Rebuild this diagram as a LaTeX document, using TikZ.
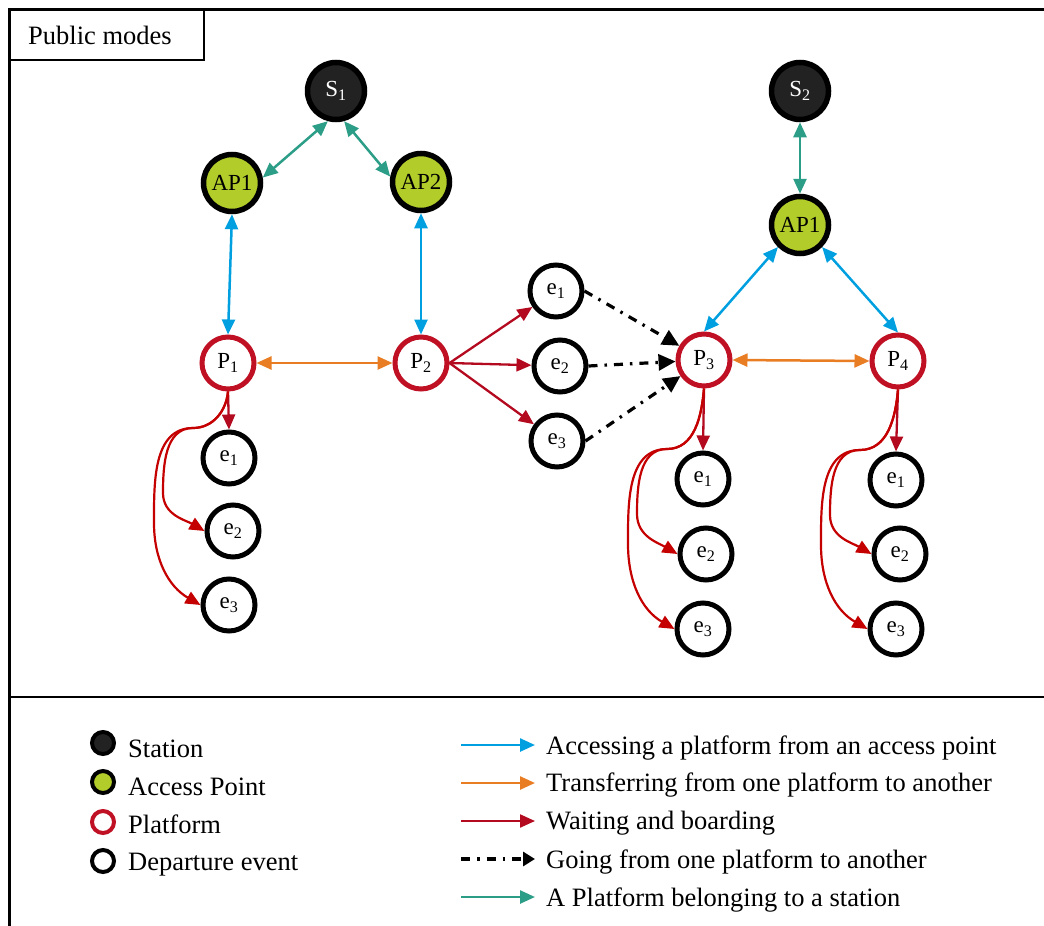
\documentclass[tikz,border=0pt]{standalone}
\usepackage{fontspec}
\setmainfont{Liberation Serif}
\usetikzlibrary{arrows.meta,calc}

\definecolor{stationfill}{RGB}{34,34,34}
\definecolor{apgreen}{RGB}{178,204,42}
\definecolor{platred}{RGB}{192,16,36}
\definecolor{waitred}{RGB}{180,10,32}
\definecolor{curvered}{RGB}{196,0,0}
\definecolor{accblue}{RGB}{0,160,224}
\definecolor{transorange}{RGB}{232,125,36}
\definecolor{stationteal}{RGB}{44,157,135}

\newcommand\nodefont{\fontsize{23}{26}\selectfont}
\newcommand\legendfont{\fontsize{26.5}{30}\selectfont}

% two curved waiting arrows from a platform to its second and third departure events
\newcommand\waitcurves[4]{%
  \draw[waitcurve] (#1.south) to[out=-95,in=0] ($(#2)+(-36,30)$)
    to[out=180,in=90] ($(#2)+(-66,-35)$) to[out=-90,in=150] (#3.west);
  \draw[waitcurve] (#1.south) to[out=-95,in=0] ($(#2)+(-36,30)$)
    to[out=180,in=90] ($(#2)+(-75,-65)$) to[out=-90,in=150] (#4.west);
}

\begin{document}
\begin{tikzpicture}[x=1pt,y=1pt,
  >={Triangle[length=15pt,width=13pt]},
  nd/.style={circle, minimum size=52pt, inner sep=0pt, line width=5pt, font=\nodefont},
  station/.style={nd, minimum size=57pt, line width=5.5pt, draw=black, fill=stationfill, text=white},
  access/.style={nd, minimum size=57pt, line width=5.5pt, draw=black, fill=apgreen},
  platform/.style={nd, draw=platred, fill=white},
  event/.style={nd, draw=black, fill=white},
  legmark/.style={minimum size=22pt, line width=4pt},
  accline/.style={draw=accblue, line width=2.5pt, <->},
  transline/.style={draw=transorange, line width=2.5pt, <->},
  stline/.style={draw=stationteal, line width=2.5pt, <->},
  waitline/.style={draw=waitred, line width=2.3pt, ->},
  waitcurve/.style={draw=curvered, line width=2.2pt, ->},
  goline/.style={draw=black, line width=3.2pt, dash pattern=on 9pt off 7pt on 2.5pt off 7pt,
    -{Triangle[length=17pt,width=16pt]}},
  frame/.style={draw=black, line width=2.5pt},
  label/.style={anchor=base west, font=\legendfont, inner sep=0pt}
]
\useasboundingbox (0,0) rectangle (1044,-926);

% frame
\draw[frame, line width=3pt] (1044,-9.5) -- (9.5,-9.5);
\draw[frame] (9.5,-9.5) -- (9.5,-926);
\draw[frame] (9.5,-697) -- (1044,-697);
\draw[frame] (9.5,-9.5) rectangle (204,-60);
\node[label] (title) at (28,-44) {Public modes};

% first station
\node[station] (S1) at (336,-91) {S\textsubscript{1}};
\node[access] (A1) at (232,-183) {AP1};
\node[access] (A2) at (421,-182) {AP2};
\node[platform] (P1) at (228,-363) {P\textsubscript{1}};
\node[platform] (P2) at (421,-363) {P\textsubscript{2}};
\node[event] (e11) at (229,-458) {e\textsubscript{1}};
\node[event] (e12) at (233,-531) {e\textsubscript{2}};
\node[event] (e13) at (229,-605) {e\textsubscript{3}};

% departures from P2
\node[event] (m1) at (556,-291) {e\textsubscript{1}};
\node[event] (m2) at (560,-366) {e\textsubscript{2}};
\node[event] (m3) at (557,-441) {e\textsubscript{3}};

% second station
\node[station] (S2) at (800,-91) {S\textsubscript{2}};
\node[access] (A3) at (800,-225) {AP1};
\node[platform] (P3) at (704,-360) {P\textsubscript{3}};
\node[platform] (P4) at (898,-361) {P\textsubscript{4}};
\node[event] (e31) at (703,-479) {e\textsubscript{1}};
\node[event] (e32) at (706,-554) {e\textsubscript{2}};
\node[event] (e33) at (703,-629) {e\textsubscript{3}};
\node[event] (e41) at (896,-480) {e\textsubscript{1}};
\node[event] (e42) at (900,-554) {e\textsubscript{2}};
\node[event] (e43) at (896,-629) {e\textsubscript{3}};

% connectors
\draw[stline] (S1.-105) -- (A1.10);
\draw[stline] (S1.-75) -- (A2.170);
\draw[accline] (A1.south) -- (P1.north);
\draw[accline] (A2.south) -- (P2.north);
\draw[transline] (P1.east) -- (P2.west);
\foreach \m in {m1,m2,m3} \draw[waitline] (P2.east) -- (\m);
\foreach \m in {m1,m2,m3} \draw[goline] (\m.east) -- (P3);
\draw[stline] (S2.south) -- (A3.north);
\draw[accline] (A3.south west) -- (P3.north);
\draw[accline] (A3.south east) -- (P4.north);
\draw[transline] (P3.east) -- (P4.west);

\draw[waitline] (P1.south) -- (e11.north);
\draw[waitline] (P3.south) -- (e31.north);
\draw[waitline] (P4.south) -- (e41.north);
\waitcurves{P1}{e11}{e12}{e13}
\waitcurves{P3}{e31}{e32}{e33}
\waitcurves{P4}{e41}{e42}{e43}

% legend: node kinds
\node[station, legmark] (ls) at (103,-743) {};
\node[label] (lst) at (128,-757) {Station};
\node[access, legmark] (la) at (103,-782) {};
\node[label] (lat) at (128,-795) {Access Point};
\node[platform, legmark] (lp) at (103,-822) {};
\node[label] (lpt) at (128,-833) {Platform};
\node[event, legmark] (le) at (103,-861) {};
\node[label] (let) at (128,-870) {Departure event};

% legend: connector kinds
\coordinate (k1a) at (461,-745); \coordinate (k1b) at (535,-745);
\coordinate (k2a) at (461,-783); \coordinate (k2b) at (535,-783);
\coordinate (k3a) at (461,-821); \coordinate (k3b) at (535,-821);
\coordinate (k4a) at (461,-859); \coordinate (k4b) at (535,-859);
\coordinate (k5a) at (461,-897); \coordinate (k5b) at (535,-897);
\draw[accline, ->] (k1a) -- (k1b);
\draw[transline, ->] (k2a) -- (k2b);
\draw[waitline] (k3a) -- (k3b);
\draw[goline, -{Triangle[length=12pt,width=14pt]}] (k4a) -- (k4b);
\draw[stline, ->] (k5a) -- (k5b);
\node[label] (k1t) at (546,-754) {Accessing a platform from an access point};
\node[label] (k2t) at (546,-791) {Transferring from one platform to another};
\node[label] (k3t) at (546,-829) {Waiting and boarding};
\node[label] (k4t) at (546,-868) {Going from one platform to another};
\node[label] (k5t) at (546,-906) {A Platform belonging to a station};
\end{tikzpicture}
\end{document}
